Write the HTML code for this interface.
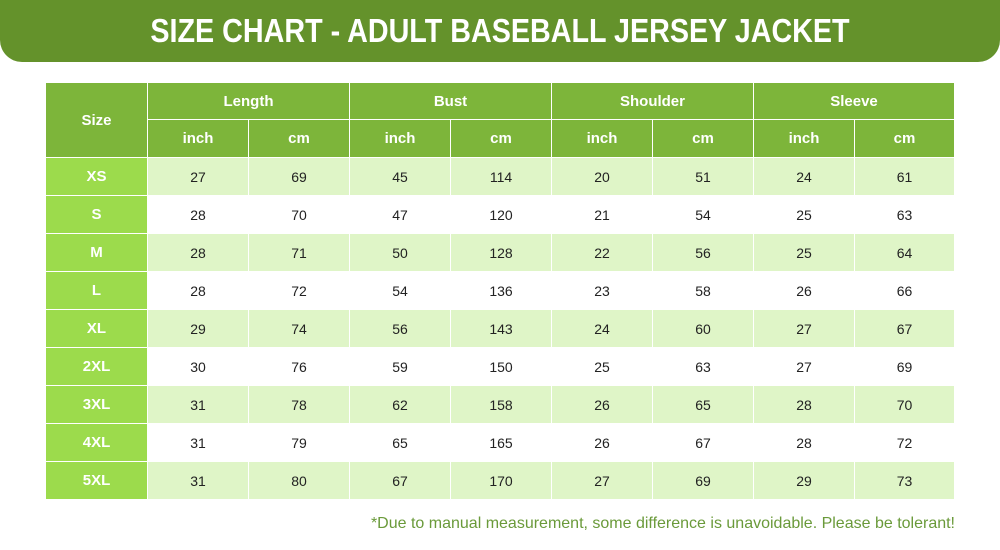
<!DOCTYPE html>
<html><head><meta charset="utf-8"><style>
body{margin:0;width:1000px;height:550px;background:#fff;position:relative;overflow:hidden;font-family:"Liberation Sans",sans-serif}
.ban{position:absolute;left:0;top:-20px;width:1000px;height:82px;background:#64922b;border-radius:0 0 22px 22px}
.ttl{position:absolute;left:0;top:12px;width:1000px;text-align:center;color:#fff;font-weight:bold;font-size:33px;transform:scaleX(0.87);transform-origin:500px 0}
.c{position:absolute;display:flex;align-items:center;justify-content:center;font-size:14px;color:#222;box-sizing:border-box}
.h{background:#7db53a;color:#fff;font-weight:bold;font-size:15px}
.s{background:#9cdb4c;color:#fff;font-weight:bold;font-size:15px}
.l{background:#dff5c7}
.w{background:#fff}
.foot{position:absolute;right:45px;top:515px;color:#6a9a3a;font-size:16px}
</style></head><body>
<div class="ban"></div>
<div class="ttl">SIZE CHART - ADULT BASEBALL JERSEY JACKET</div>
<div id="t"></div>
<div class="foot">*Due to manual measurement, some difference is unavoidable. Please be tolerant!</div>
<script>
var T=document.getElementById('t'),h='';
function cell(x,y,w,hh,cls,txt){h+='<div class="c '+cls+'" style="left:'+x+'px;top:'+y+'px;width:'+w+'px;height:'+hh+'px">'+txt+'</div>';}
var cx=[46,148,249,350,451,552,653,754,855,955];
cell(46,83,101,74,'h','Size');
var g=['Length','Bust','Shoulder','Sleeve'];
for(var i=0;i<4;i++){cell(cx[1+2*i],83,cx[3+2*i]-cx[1+2*i]-1,36,'h',g[i]);cell(cx[1+2*i],120,cx[2+2*i]-cx[1+2*i]-1,37,'h','inch');cell(cx[2+2*i],120,cx[3+2*i]-cx[2+2*i]-1,37,'h','cm');}
var d=[['XS',27,69,45,114,20,51,24,61],['S',28,70,47,120,21,54,25,63],['M',28,71,50,128,22,56,25,64],['L',28,72,54,136,23,58,26,66],['XL',29,74,56,143,24,60,27,67],['2XL',30,76,59,150,25,63,27,69],['3XL',31,78,62,158,26,65,28,70],['4XL',31,79,65,165,26,67,28,72],['5XL',31,80,67,170,27,69,29,73]];
for(var r=0;r<9;r++){var y=158+r*38;for(var c=0;c<9;c++){cell(cx[c],y,cx[c+1]-cx[c]-1,37,c==0?'s':(r%2==0?'l':'w'),d[r][c]);}}
T.innerHTML=h;
</script>
</body></html>
